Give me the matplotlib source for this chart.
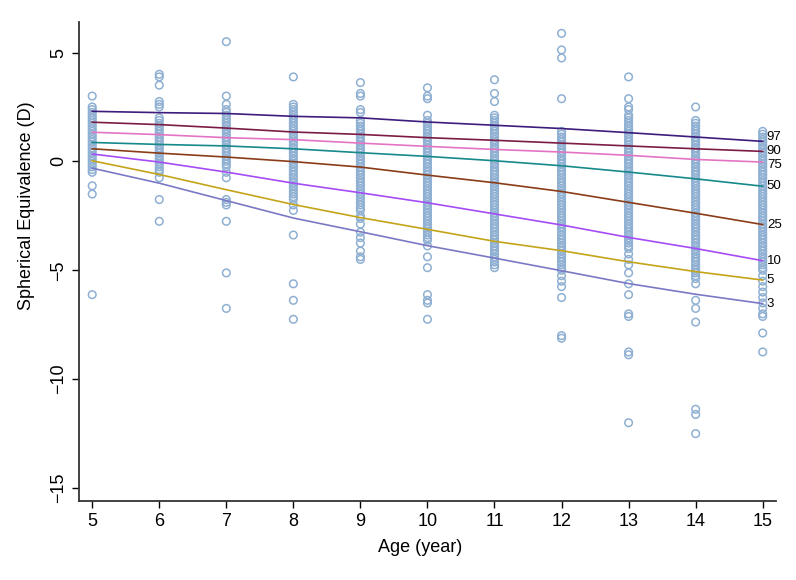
import matplotlib
matplotlib.use("Agg")
import matplotlib.pyplot as plt

plt.rcParams['font.family'] = ['Liberation Sans', 'DejaVu Sans']

ages = [5, 6, 7, 8, 9, 10, 11, 12, 13, 14, 15]

# refraction values per age (D)
se_5 = [3.0, 2.5, 2.38, 2.25, 2.12, 2.0, 1.88, 1.75, 1.62, 1.5, 1.38, 1.25, 1.12, 1.0,
        0.88, 0.75, 0.62, 0.5, 0.38, 0.25, 0.12, 0.0, -0.12, -0.25, -0.38, -0.5,
        -1.12, -1.5, -6.12]
se_6 = [4.0, 3.88, 3.5, 2.75, 2.62, 2.5, 2.0, 1.88, 1.75, 1.62, 1.5, 1.38, 1.25, 1.12,
        1.0, 0.88, 0.75, 0.62, 0.5, 0.38, 0.25, 0.12, 0.0, -0.12, -0.25, -0.38, -0.5,
        -0.75, -1.75, -2.75]
se_7 = [5.5, 3.0, 2.62, 2.38, 2.25, 2.12, 2.0, 1.88, 1.75, 1.62, 1.5, 1.38, 1.25, 1.12,
        1.0, 0.88, 0.75, 0.62, 0.5, 0.38, 0.25, 0.12, 0.0, -0.12, -0.25, -0.5, -0.75,
        -1.75, -1.88, -2.0, -2.75, -5.12, -6.75]
se_8 = [3.88, 2.62, 2.5, 2.38, 2.25, 2.12, 2.0, 1.88, 1.75, 1.62, 1.5, 1.38, 1.25, 1.12,
        1.0, 0.88, 0.75, 0.62, 0.5, 0.38, 0.25, 0.12, 0.0, -0.12, -0.25, -0.38, -0.5,
        -0.62, -0.75, -0.88, -1.0, -1.12, -1.25, -1.38, -1.5, -1.62, -1.75, -2.0, -2.25,
        -3.38, -5.62, -6.38, -7.25]
se_9 = [3.62, 3.12, 3.0, 2.38, 2.25, 1.88, 1.75, 1.62, 1.5, 1.38, 1.25, 1.12, 1.0, 0.88,
        0.75, 0.62, 0.5, 0.38, 0.25, 0.12, 0.0, -0.12, -0.25, -0.38, -0.5, -0.62, -0.75,
        -0.88, -1.0, -1.12, -1.25, -1.38, -1.5, -1.62, -1.75, -1.88, -2.0, -2.12, -2.25,
        -2.5, -2.62, -2.88, -3.25, -3.5, -3.75, -4.12, -4.38, -4.5]
se_10 = [3.38, 3.0, 2.88, 2.12, 1.88, 1.75, 1.62, 1.5, 1.38, 1.25, 1.12, 1.0, 0.88, 0.75,
         0.62, 0.5, 0.38, 0.25, 0.12, 0.0, -0.12, -0.25, -0.38, -0.5, -0.62, -0.75,
         -0.88, -1.0, -1.12, -1.25, -1.38, -1.5, -1.62, -1.75, -1.88, -2.0, -2.12, -2.25,
         -2.38, -2.5, -2.62, -2.75, -2.88, -3.0, -3.12, -3.25, -3.38, -3.5, -3.62, -3.88,
         -4.38, -4.88, -6.12, -6.38, -6.5, -7.25]
se_11 = [3.75, 3.12, 2.75, 2.12, 2.0, 1.88, 1.75, 1.62, 1.5, 1.38, 1.25, 1.12, 1.0, 0.88,
         0.75, 0.62, 0.5, 0.38, 0.25, 0.12, 0.0, -0.12, -0.25, -0.38, -0.5, -0.62, -0.75,
         -0.88, -1.0, -1.12, -1.25, -1.38, -1.5, -1.62, -1.75, -1.88, -2.0, -2.12, -2.25,
         -2.38, -2.5, -2.62, -2.75, -2.88, -3.0, -3.12, -3.25, -3.38, -3.5, -3.62, -3.75,
         -3.88, -4.0, -4.12, -4.25, -4.38, -4.5, -4.62, -4.75, -4.88]
se_12 = [5.88, 5.12, 4.75, 2.88, 1.38, 1.25, 1.12, 1.0, 0.88, 0.75, 0.62, 0.5, 0.38, 0.25,
         0.12, 0.0, -0.12, -0.25, -0.38, -0.5, -0.62, -0.75, -0.88, -1.0, -1.12, -1.25,
         -1.38, -1.5, -1.62, -1.75, -1.88, -2.0, -2.12, -2.25, -2.38, -2.5, -2.62, -2.75,
         -2.88, -3.0, -3.12, -3.25, -3.38, -3.5, -3.62, -3.75, -3.88, -4.0, -4.12, -4.25,
         -4.38, -4.5, -4.62, -4.75, -4.88, -5.0, -5.25, -5.5, -5.75, -6.25, -8.0, -8.12]
se_13 = [3.88, 2.88, 2.5, 2.38, 2.12, 2.0, 1.88, 1.75, 1.62, 1.5, 1.38, 1.25, 1.12, 1.0,
         0.88, 0.75, 0.62, 0.5, 0.38, 0.25, 0.12, 0.0, -0.12, -0.25, -0.38, -0.5, -0.62,
         -0.75, -0.88, -1.0, -1.12, -1.25, -1.38, -1.5, -1.62, -1.75, -1.88, -2.0, -2.12,
         -2.25, -2.38, -2.5, -2.62, -2.75, -2.88, -3.0, -3.12, -3.25, -3.38, -3.5, -3.62,
         -3.75, -3.88, -4.0, -4.25, -4.5, -4.75, -5.12, -5.62, -6.12, -7.0, -7.12, -8.75,
         -8.88, -12.0]
se_14 = [2.5, 1.88, 1.75, 1.62, 1.5, 1.38, 1.25, 1.12, 1.0, 0.88, 0.75, 0.62, 0.5, 0.38,
         0.25, 0.12, 0.0, -0.12, -0.25, -0.38, -0.5, -0.62, -0.75, -0.88, -1.0, -1.12,
         -1.25, -1.38, -1.5, -1.62, -1.75, -1.88, -2.0, -2.12, -2.25, -2.38, -2.5, -2.62,
         -2.75, -2.88, -3.0, -3.12, -3.25, -3.38, -3.5, -3.62, -3.75, -3.88, -4.0, -4.12,
         -4.25, -4.38, -4.5, -4.62, -4.75, -4.88, -5.0, -5.12, -5.25, -5.38, -5.62, -6.38,
         -6.75, -7.38, -11.38, -11.62, -12.5]
se_15 = [1.38, 1.25, 1.12, 1.0, 0.88, 0.75, 0.62, 0.5, 0.38, 0.25, 0.12, 0.0, -0.12,
         -0.25, -0.38, -0.5, -0.62, -0.75, -0.88, -1.0, -1.12, -1.25, -1.38, -1.5, -1.62,
         -1.75, -1.88, -2.0, -2.12, -2.25, -2.38, -2.5, -2.62, -2.75, -2.88, -3.0, -3.12,
         -3.25, -3.38, -3.5, -3.62, -3.75, -3.88, -4.0, -4.12, -4.25, -4.38, -4.5, -4.62,
         -4.75, -4.88, -5.0, -5.25, -5.5, -5.75, -6.0, -6.25, -6.5, -6.75, -7.0, -7.12,
         -7.88, -8.75]

# fitted percentile curves
p97 = [2.3, 2.24, 2.2, 2.07, 2.0, 1.81, 1.66, 1.51, 1.32, 1.12, 0.92]
p90 = [1.8, 1.69, 1.53, 1.35, 1.24, 1.09, 0.97, 0.84, 0.71, 0.58, 0.46]
p75 = [1.34, 1.23, 1.09, 1.0, 0.84, 0.69, 0.55, 0.43, 0.28, 0.09, -0.03]
p50 = [0.87, 0.78, 0.71, 0.58, 0.4, 0.23, 0.03, -0.2, -0.49, -0.8, -1.14]
p25 = [0.58, 0.38, 0.2, -0.01, -0.26, -0.63, -0.98, -1.38, -1.88, -2.38, -2.9]
p10 = [0.34, -0.03, -0.49, -1.0, -1.44, -1.9, -2.41, -2.92, -3.49, -4.0, -4.56]
p5 = [0.03, -0.6, -1.3, -1.98, -2.58, -3.12, -3.67, -4.1, -4.61, -5.06, -5.45]
p3 = [-0.31, -1.0, -1.8, -2.6, -3.23, -3.87, -4.44, -5.02, -5.61, -6.1, -6.53]

columns = [se_5, se_6, se_7, se_8, se_9, se_10, se_11, se_12, se_13, se_14, se_15]
curves = [("97", p97, "#3d1c7c"), ("90", p90, "#7c1c44"), ("75", p75, "#e374c4"),
          ("50", p50, "#17898a"), ("25", p25, "#8a3c18"), ("10", p10, "#a54cf5"),
          ("5", p5, "#c4a418"), ("3", p3, "#7b78c6")]
# small vertical nudges (points) so the crowded top labels don't collide
label_dy = {"97": 3, "90": 0, "75": -2}

fig = plt.figure(figsize=(7.96, 5.8), dpi=100)
ax = fig.add_axes([0.099, 0.136, 0.876, 0.826])

for age, vals in zip(ages, columns):
    ax.scatter([age] * len(vals), vals, s=30, facecolors="none",
               edgecolors="#8fb0d2", linewidths=1.1, zorder=1)

for name, vals, col in curves:
    ax.plot(ages, vals, color=col, lw=1.2, zorder=2)
    ax.annotate(name, (15, vals[-1]), xytext=(3, label_dy.get(name, 0)),
                textcoords="offset points", fontsize=9.5, va="center", ha="left")

ax.set_xlim(4.8, 15.2)
ax.set_ylim(-15.6, 6.4)
ax.set_xticks(ages)
ax.set_yticks([5, 0, -5, -10, -15])
ax.tick_params(axis="both", labelsize=13, length=5, width=1, direction="out")
for lab in ax.get_yticklabels():
    lab.set_rotation(90)
    lab.set_va("center")
ax.spines["top"].set_visible(False)
ax.spines["right"].set_visible(False)
ax.spines["left"].set_linewidth(1.3)
ax.spines["bottom"].set_linewidth(1.3)
ax.spines["left"].set_color("#333333")
ax.spines["bottom"].set_color("#333333")

ax.set_xlabel("Age (year)", fontsize=13)
ax.set_ylabel("Spherical Equivalence (D)", fontsize=13)
ax.xaxis.set_label_coords(0.49, -0.08)
ax.yaxis.set_label_coords(-0.063, 0.616)

fig.savefig("out.png", dpi=100)
